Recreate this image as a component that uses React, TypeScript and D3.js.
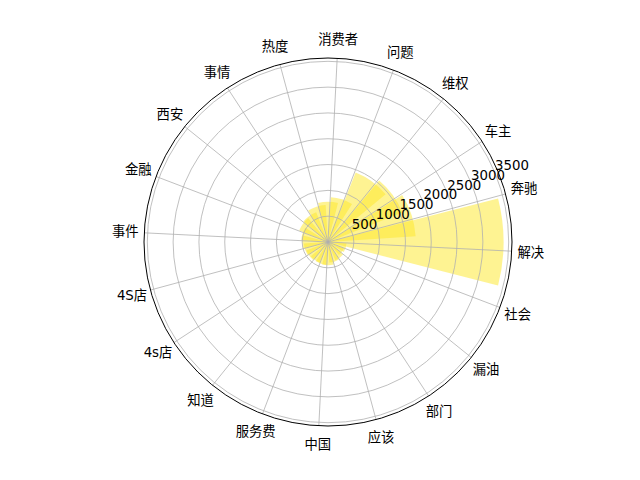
import React from "react";
import * as d3 from "d3";

const categories = ["解决", "奔驰", "车主", "维权", "问题", "消费者", "热度", "事情", "西安", "金融", "事件", "4S店", "4s店", "知道", "服务费", "中国", "应该", "部门", "漏油", "社会"];
const values = [3400, 1700, 1550, 1450, 870, 780, 720, 620, 600, 520, 500, 470, 450, 430, 440, 450, 400, 380, 330, 360];
const radialTicks = [500, 1000, 1500, 2000, 2500, 3000, 3500];
const rMax = 3564;

const W = 640, H = 480;
const cx = 328, cy = 242, R = 184;
const barWidth = 0.5; // radians
const tickOffsetDeg = -2.86;
const font = "'DejaVu Sans', 'Noto Sans CJK SC', sans-serif";

export default function App() {
  const r = d3.scaleLinear().domain([0, rMax]).range([0, R]);
  const n = categories.length;
  const theta = d3.scaleLinear().domain([0, n]).range([0, 2 * Math.PI]);
  const arc = d3.arc<any>();
  const toXY = (t: number, rad: number) => [cx + rad * Math.cos(t), cy - rad * Math.sin(t)];
  const tickAngles = categories.map((_, i) => theta(i) + (tickOffsetDeg * Math.PI) / 180);
  const rlabAngle = (22.5 * Math.PI) / 180;

  return (
    <svg width={W} height={H} style={{ position: "absolute", left: 0, top: 0, background: "#fff" }}>
      <g transform={`translate(${cx},${cy})`}>
        {values.map((v, i) => {
          const t = theta(i);
          const a = Math.PI / 2 - t;
          return (
            <path
              key={i}
              d={arc({ innerRadius: 0, outerRadius: r(v), startAngle: a - barWidth / 2, endAngle: a + barWidth / 2 }) as string}
              fill="#fde725"
              fillOpacity={0.5}
            />
          );
        })}
      </g>
      {radialTicks.map((t) => (
        <circle key={t} cx={cx} cy={cy} r={r(t)} fill="none" stroke="#b0b0b0" strokeWidth={0.8} />
      ))}
      {tickAngles.map((t, i) => {
        const [x, y] = toXY(t, R);
        return <line key={i} x1={cx} y1={cy} x2={x} y2={y} stroke="#b0b0b0" strokeWidth={0.8} />;
      })}
      <circle cx={cx} cy={cy} r={R} fill="none" stroke="#000" strokeWidth={1} />
      {radialTicks.map((t) => {
        const [x, y] = toXY(rlabAngle, r(t));
        return (
          <text key={t} x={x} y={y - 3} fontFamily={font} fontSize={13.33} fill="#000">
            {t}
          </text>
        );
      })}
      {tickAngles.map((t, i) => {
        const [x, y] = toXY(t, 203);
        return (
          <text key={i} x={x} y={y} textAnchor="middle" dominantBaseline="central" fontFamily={font} fontSize={13.33} fill="#000">
            {categories[i]}
          </text>
        );
      })}
    </svg>
  );
}
